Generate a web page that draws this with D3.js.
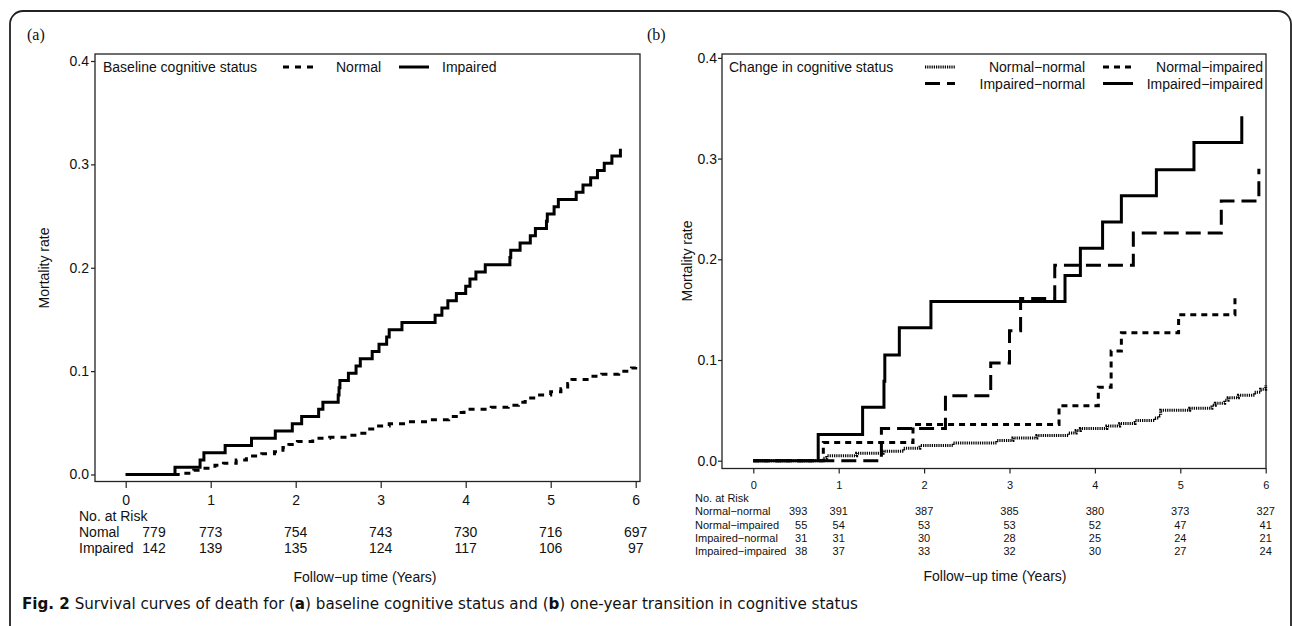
<!DOCTYPE html>
<html lang="en">
<head>
    <meta charset="UTF-8">
    <title>Survival curves of death</title>
    <script src="https://d3js.org/d3.v7.min.js"></script>
    <style>
        body {
            margin: 0;
            background-color: #fff;
        }
        svg text {
            font-family: 'Liberation Sans', Arial, Helvetica, sans-serif;
            fill: #111;
        }
        .axis path {
            display: none;
        }
        .axis line {
            stroke: #222;
            stroke-width: 1.2;
        }
        .curve {
            fill: none;
            stroke: #000;
            stroke-width: 3;
        }
    </style>
</head>
<body>
<svg id="chart" width="1292" height="626"></svg>
<script>
    // Shared ticks
    const yearTicks = [0, 1, 2, 3, 4, 5, 6];
    const rateTicks = [0, 0.1, 0.2, 0.3, 0.4];

    // Panel (a): cumulative mortality by baseline cognitive status, [years, rate]
    const aNormal = [[0, 0], [0.67, 0.0013], [0.8, 0.004], [0.9, 0.006], [1.05, 0.009], [1.15, 0.011],
        [1.3, 0.014], [1.42, 0.018], [1.6, 0.020], [1.75, 0.022], [1.85, 0.026], [1.92, 0.029],
        [2.02, 0.032], [2.2, 0.035], [2.4, 0.036], [2.6, 0.038], [2.75, 0.040], [2.85, 0.044],
        [2.95, 0.047], [3.1, 0.049], [3.35, 0.051], [3.55, 0.053], [3.8, 0.056], [3.92, 0.060],
        [3.98, 0.063], [4.3, 0.065], [4.5, 0.067], [4.62, 0.070], [4.7, 0.074], [4.85, 0.077],
        [5.0, 0.080], [5.12, 0.083], [5.2, 0.088], [5.25, 0.092], [5.45, 0.095], [5.6, 0.097],
        [5.8, 0.100], [5.95, 0.103], [6.0, 0.104]];
    const aImpaired = [[0, 0], [0.58, 0.007], [0.875, 0.014], [0.92, 0.021], [1.17, 0.028], [1.48, 0.035],
        [1.76, 0.042], [1.96, 0.049], [2.07, 0.056], [2.27, 0.063], [2.32, 0.070], [2.50, 0.077],
        [2.51, 0.084], [2.52, 0.091], [2.62, 0.098], [2.71, 0.105], [2.76, 0.112], [2.90, 0.119],
        [2.98, 0.126], [3.07, 0.133], [3.10, 0.140], [3.25, 0.147], [3.64, 0.154], [3.72, 0.161],
        [3.79, 0.168], [3.89, 0.175], [4.00, 0.182], [4.05, 0.189], [4.12, 0.196], [4.23, 0.203],
        [4.52, 0.210], [4.53, 0.217], [4.64, 0.224], [4.76, 0.231], [4.82, 0.238], [4.95, 0.245],
        [4.96, 0.252], [5.04, 0.259], [5.09, 0.266], [5.30, 0.273], [5.38, 0.280], [5.47, 0.287],
        [5.55, 0.294], [5.63, 0.301], [5.72, 0.308], [5.82, 0.315]];

    const aRiskLabels = ["Nomal", "Impaired"];
    const aRiskNormal = [779, 773, 754, 743, 730, 716, 697];
    const aRiskImpaired = [142, 139, 135, 124, 117, 106, 97];

    // Panel (b): cumulative mortality by one-year transition, [years, rate]
    const bNormalNormal = [[0, 0], [0.82, 0.0025], [0.86, 0.005], [1.21, 0.0075], [1.52, 0.0095],
        [1.76, 0.0123], [1.95, 0.015], [2.34, 0.0175], [2.85, 0.020], [3.04, 0.0225], [3.32, 0.025],
        [3.69, 0.0275], [3.78, 0.030], [3.83, 0.032], [4.14, 0.0345], [4.29, 0.037], [4.47, 0.040],
        [4.70, 0.0425], [4.75, 0.045], [4.77, 0.050], [5.11, 0.052], [5.37, 0.055], [5.41, 0.057],
        [5.52, 0.060], [5.56, 0.0625], [5.68, 0.065], [5.87, 0.068], [5.94, 0.071], [6.0, 0.075]];
    const bNormalImpaired = [[0, 0], [0.82, 0.018], [1.87, 0.036], [3.58, 0.0545], [4.04, 0.073],
        [4.19, 0.109], [4.31, 0.127], [4.98, 0.145], [5.64, 0.164]];
    const bImpairedNormal = [[0, 0], [1.50, 0.032], [2.25, 0.0645], [2.78, 0.097], [3.0, 0.129],
        [3.13, 0.161], [3.53, 0.194], [4.45, 0.226], [5.48, 0.258], [5.92, 0.29]];
    const bImpairedImpaired = [[0, 0], [0.76, 0.026], [1.28, 0.053], [1.53, 0.079], [1.54, 0.105],
        [1.71, 0.132], [2.08, 0.158], [3.65, 0.184], [3.83, 0.211], [4.09, 0.237], [4.31, 0.263],
        [4.72, 0.289], [5.16, 0.316], [5.72, 0.342]];

    const bRiskLabels = ["Normal\u2212normal", "Normal\u2212impaired", "Impaired\u2212normal", "Impaired\u2212impaired"];
    const bRiskNN = [393, 391, 387, 385, 380, 373, 327];
    const bRiskNI = [55, 54, 53, 53, 52, 47, 41];
    const bRiskIN = [31, 31, 30, 28, 25, 24, 21];
    const bRiskII = [38, 37, 33, 32, 30, 27, 24];

    // Line styles
    const dashNormal = "6,6";
    const dashDotted = "1.2,1";
    const dashShort = "6,5";
    const dashLong = "15,7";

    const svg = d3.select("#chart");

    // Outer rounded frame
    svg.append("rect")
        .attr("x", 10).attr("y", 11)
        .attr("width", 1281).attr("height", 680)
        .attr("rx", 13)
        .attr("fill", "none")
        .attr("stroke", "#222")
        .attr("stroke-width", 1.8);

    function drawPanel(p) {
        const g = svg.append("g");
        const x = d3.scaleLinear().domain([0, 6]).range(p.xRange);
        const y = d3.scaleLinear().domain([0, 0.4]).range(p.yRange);

        // Plot box
        g.append("rect")
            .attr("x", p.box[0]).attr("y", p.box[1])
            .attr("width", p.box[2] - p.box[0]).attr("height", p.box[3] - p.box[1])
            .attr("fill", "none").attr("stroke", "#222").attr("stroke-width", 1.3);

        // Axes
        const xAxis = g.append("g")
            .attr("class", "axis")
            .attr("transform", `translate(0, ${p.box[3]})`)
            .call(d3.axisBottom(x).tickValues(yearTicks).tickFormat(d3.format("d"))
                .tickSize(p.xTick).tickPadding(p.xPad));
        xAxis.selectAll("text").style("font-size", p.xFont + "px").attr("fill", "#111");

        const yAxis = g.append("g")
            .attr("class", "axis")
            .attr("transform", `translate(${p.box[0]}, 0)`)
            .call(d3.axisLeft(y).tickValues(rateTicks).tickFormat(d3.format(".1f"))
                .tickSize(4).tickPadding(p.yPad));
        yAxis.selectAll("text").style("font-size", "14px").attr("fill", "#111");

        // Curves
        const line = d3.line()
            .x(d => x(d[0]))
            .y(d => y(d[1]))
            .curve(d3.curveStepAfter);

        p.series.forEach(s => {
            g.append("path")
                .datum(s.data)
                .attr("class", "curve")
                .attr("stroke-dasharray", s.dash)
                .attr("d", line);
        });

        // Y label
        g.append("text")
            .attr("transform", `translate(${p.yLabel[0]}, ${p.yLabel[1]}) rotate(-90)`)
            .attr("text-anchor", "middle")
            .style("font-size", "14px")
            .text("Mortality rate");

        // X label
        g.append("text")
            .attr("x", p.xLabel[0]).attr("y", p.xLabel[1])
            .attr("text-anchor", "middle")
            .style("font-size", "14px")
            .text("Follow\u2212up time (Years)");

        // Panel letter
        g.append("text")
            .attr("x", p.letter[0]).attr("y", p.letter[1])
            .style("font-family", "'Liberation Serif', 'Times New Roman', serif")
            .style("font-size", "16px")
            .text(p.letterText);

        // Risk table
        const rt = p.risk;
        g.append("text")
            .attr("x", rt.left).attr("y", rt.headY)
            .style("font-size", rt.font + "px")
            .text("No. at Risk");
        rt.rows.forEach((row, i) => {
            const yy = rt.rowY[i];
            g.append("text")
                .attr("x", rt.left).attr("y", yy)
                .style("font-size", rt.font + "px")
                .text(rt.labels[i]);
            g.selectAll(null)
                .data(row)
                .enter()
                .append("text")
                .attr("x", (d, j) => j === 0 ? x(0) + rt.firstOffset : x(yearTicks[j]))
                .attr("y", yy)
                .attr("text-anchor", (d, j) => j === 0 ? "end" : "middle")
                .style("font-size", rt.font + "px")
                .text(d => d);
        });

        // Legend
        const lg = p.legend;
        g.append("text")
            .attr("x", lg.titleX).attr("y", lg.rowY[0] + 5)
            .style("font-size", "14px")
            .text(lg.title);
        lg.items.forEach(it => {
            const ly = lg.rowY[it.row];
            g.append("line")
                .attr("x1", it.x1).attr("x2", it.x1 + 30)
                .attr("y1", ly).attr("y2", ly)
                .attr("stroke", "#000").attr("stroke-width", 3)
                .attr("stroke-dasharray", it.dash);
            g.append("text")
                .attr("x", it.tx).attr("y", ly + 5)
                .attr("text-anchor", it.anchor)
                .style("font-size", "14px")
                .text(it.label);
        });
    }

    drawPanel({
        box: [95, 54, 640, 481.5],
        xRange: [125.7, 635.7],
        yRange: [474.5, 61],
        xTick: 6.5, xPad: 7.5, xFont: 14, yPad: 2,
        yLabel: [49, 268],
        xLabel: [365, 582],
        letter: [27, 40],
        letterText: "(a)",
        series: [
            { data: aNormal, dash: dashNormal },
            { data: aImpaired, dash: null }
        ],
        risk: {
            left: 79, font: 14, headY: 521, rowY: [537, 553], firstOffset: 40,
            labels: aRiskLabels, rows: [aRiskNormal, aRiskImpaired]
        },
        legend: {
            title: "Baseline cognitive status", titleX: 103, rowY: [67],
            items: [
                { row: 0, x1: 283, dash: dashNormal, tx: 336, anchor: "start", label: "Normal" },
                { row: 0, x1: 399, dash: null, tx: 442, anchor: "start", label: "Impaired" }
            ]
        }
    });

    drawPanel({
        box: [722, 54, 1266, 468.5],
        xRange: [753.3, 1265.7],
        yRange: [460.7, 57.9],
        xTick: 5, xPad: 8, xFont: 11, yPad: 1,
        yLabel: [692, 261],
        xLabel: [995, 581],
        letter: [647, 40],
        letterText: "(b)",
        series: [
            { data: bNormalNormal, dash: dashDotted },
            { data: bNormalImpaired, dash: dashShort },
            { data: bImpairedNormal, dash: dashLong },
            { data: bImpairedImpaired, dash: null }
        ],
        risk: {
            left: 695, font: 11, headY: 502, rowY: [515, 528.5, 541.5, 554.5], firstOffset: 54,
            labels: bRiskLabels, rows: [bRiskNN, bRiskNI, bRiskIN, bRiskII]
        },
        legend: {
            title: "Change in cognitive status", titleX: 729, rowY: [67, 83.5],
            items: [
                { row: 0, x1: 925, dash: dashDotted, tx: 1085, anchor: "end", label: "Normal\u2212normal" },
                { row: 0, x1: 1103, dash: dashShort, tx: 1263, anchor: "end", label: "Normal\u2212impaired" },
                { row: 1, x1: 925, dash: dashLong, tx: 1085, anchor: "end", label: "Impaired\u2212normal" },
                { row: 1, x1: 1103, dash: null, tx: 1263, anchor: "end", label: "Impaired\u2212impaired" }
            ]
        }
    });

    // Caption
    const cap = svg.append("text")
        .attr("x", 22).attr("y", 609)
        .attr("textLength", 836)
        .attr("lengthAdjust", "spacingAndGlyphs")
        .style("font-family", "'Liberation Sans Narrow', 'DejaVu Sans Condensed', 'Open Sans', sans-serif")
        .style("font-size", "16px")
        .attr("fill", "#231f20");
    cap.append("tspan").style("font-weight", "bold").text("Fig. 2");
    cap.append("tspan").text(" Survival curves of death for (");
    cap.append("tspan").style("font-weight", "bold").text("a");
    cap.append("tspan").text(") baseline cognitive status and (");
    cap.append("tspan").style("font-weight", "bold").text("b");
    cap.append("tspan").text(") one-year transition in cognitive status");
</script>
</body>
</html>
